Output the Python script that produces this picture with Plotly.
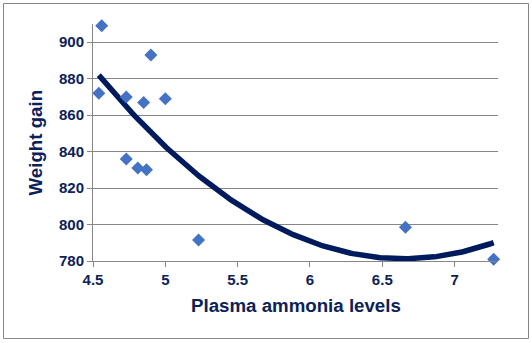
import numpy as np
import plotly.graph_objects as go

ammonia = [4.56, 4.54, 4.73, 4.85, 4.90, 5.00, 4.73, 4.81, 4.87, 5.23, 6.66, 7.27]
weight_gain = [909, 872, 870, 867, 893, 869, 836, 831, 830, 791.5, 798.5, 781]

x_ticks = [4.5, 5, 5.5, 6, 6.5, 7]
x_tick_labels = ["4.5", "5", "5.5", "6", "6.5", "7"]
y_ticks = [780, 800, 820, 840, 860, 880, 900]

# Polynomial (order 2) trend line fitted to the data, as in the original chart
coef = np.polyfit(ammonia, weight_gain, 2)
tx = np.linspace(min(ammonia), max(ammonia), 200)
ty = np.polyval(coef, tx)

navy = "#0C2158"
W, H = 532, 343
L, R, T, B = 93, 34, 24, 82
pw, ph = W - L - R, H - T - B

fig = go.Figure()
fig.add_trace(go.Scatter(x=tx, y=ty, mode="lines", cliponaxis=False,
                         line=dict(color="#001A5E", width=5.5), hoverinfo="skip"))
fig.add_trace(go.Scatter(x=ammonia, y=weight_gain, mode="markers", cliponaxis=False,
                         marker=dict(symbol="diamond", size=10, color="#4472C4")))

tickfont = dict(size=15, family="Arial, Liberation Sans", color=navy, weight="bold")
fig.update_layout(
    width=W, height=H, margin=dict(l=L, r=R, t=T, b=B),
    paper_bgcolor="white", plot_bgcolor="white", showlegend=False,
    font=dict(family="Arial, Liberation Sans", color=navy),
    xaxis=dict(range=[4.5, 7.3], tickvals=x_ticks, ticktext=x_tick_labels,
               showgrid=False, zeroline=False, showline=True, linecolor="#868686",
               linewidth=1, ticks="outside", ticklen=5, tickcolor="#868686",
               tickfont=tickfont),
    yaxis=dict(range=[780, 910], tickvals=y_ticks,
               showgrid=True, gridcolor="#868686", gridwidth=1, zeroline=False,
               showline=True, linecolor="#868686", linewidth=1,
               ticks="outside", ticklen=5, tickcolor="#868686",
               tickfont=tickfont),
    annotations=[
        dict(text="<b>Plasma ammonia levels</b>", xref="paper", yref="paper",
             x=0.5, y=(H - 305 - B) / ph, xanchor="center", yanchor="middle",
             showarrow=False, font=dict(size=18.7, color=navy)),
        dict(text="<b>Weight gain</b>", xref="paper", yref="paper",
             x=(35 - L) / pw, y=0.5, xanchor="center", yanchor="middle",
             textangle=-90, showarrow=False, font=dict(size=18.7, color=navy)),
    ],
    shapes=[dict(type="rect", xref="paper", yref="paper",
                 x0=(3.5 - L) / pw, x1=(528.5 - L) / pw,
                 y0=(H - 338.5 - B) / ph, y1=(H - 3.5 - B) / ph,
                 line=dict(color="#868686", width=1), layer="below")],
)

fig.write_html("out.html")
